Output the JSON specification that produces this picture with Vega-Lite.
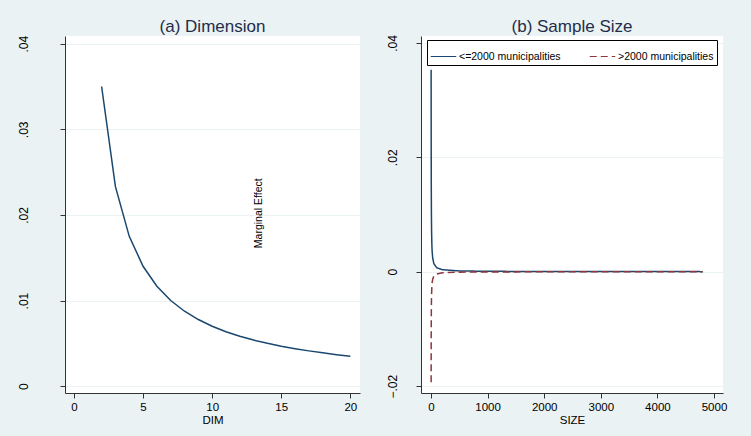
{
  "$schema": "https://vega.github.io/schema/vega-lite/v6.json",
  "background": "#EAF2F3",
  "padding": {"left": 16, "top": 17, "right": 30, "bottom": 18},
  "spacing": 61,
  "bounds": "flush",
  "datasets": {
    "dim": [
      {"DIM": 2, "ME": 0.035}, {"DIM": 3, "ME": 0.0233}, {"DIM": 4, "ME": 0.0175},
      {"DIM": 5, "ME": 0.014}, {"DIM": 6, "ME": 0.01167}, {"DIM": 7, "ME": 0.01},
      {"DIM": 8, "ME": 0.00875}, {"DIM": 9, "ME": 0.00778}, {"DIM": 10, "ME": 0.007},
      {"DIM": 11, "ME": 0.00636}, {"DIM": 12, "ME": 0.00583}, {"DIM": 13, "ME": 0.00538},
      {"DIM": 14, "ME": 0.005}, {"DIM": 15, "ME": 0.00467}, {"DIM": 16, "ME": 0.00438},
      {"DIM": 17, "ME": 0.00412}, {"DIM": 18, "ME": 0.00389}, {"DIM": 19, "ME": 0.00368},
      {"DIM": 20, "ME": 0.0035}
    ],
    "size": [
      {"SIZE": 2, "ME": 0.0353, "group": "<=2000 municipalities"},
      {"SIZE": 3, "ME": 0.0235, "group": "<=2000 municipalities"},
      {"SIZE": 4, "ME": 0.0176, "group": "<=2000 municipalities"},
      {"SIZE": 5, "ME": 0.0141, "group": "<=2000 municipalities"},
      {"SIZE": 7, "ME": 0.0101, "group": "<=2000 municipalities"},
      {"SIZE": 10, "ME": 0.00706, "group": "<=2000 municipalities"},
      {"SIZE": 15, "ME": 0.0047, "group": "<=2000 municipalities"},
      {"SIZE": 20, "ME": 0.00353, "group": "<=2000 municipalities"},
      {"SIZE": 30, "ME": 0.00235, "group": "<=2000 municipalities"},
      {"SIZE": 50, "ME": 0.00141, "group": "<=2000 municipalities"},
      {"SIZE": 100, "ME": 0.0007, "group": "<=2000 municipalities"},
      {"SIZE": 200, "ME": 0.00035, "group": "<=2000 municipalities"},
      {"SIZE": 500, "ME": 0.00014, "group": "<=2000 municipalities"},
      {"SIZE": 1000, "ME": 0.00007, "group": "<=2000 municipalities"},
      {"SIZE": 2000, "ME": 0.000035, "group": "<=2000 municipalities"},
      {"SIZE": 3000, "ME": 0.000024, "group": "<=2000 municipalities"},
      {"SIZE": 4000, "ME": 0.000018, "group": "<=2000 municipalities"},
      {"SIZE": 4800, "ME": 0.000015, "group": "<=2000 municipalities"},
      {"SIZE": 2, "ME": -0.0193, "group": ">2000 municipalities"},
      {"SIZE": 3, "ME": -0.0129, "group": ">2000 municipalities"},
      {"SIZE": 4, "ME": -0.0097, "group": ">2000 municipalities"},
      {"SIZE": 5, "ME": -0.0077, "group": ">2000 municipalities"},
      {"SIZE": 7, "ME": -0.0055, "group": ">2000 municipalities"},
      {"SIZE": 10, "ME": -0.0039, "group": ">2000 municipalities"},
      {"SIZE": 15, "ME": -0.0026, "group": ">2000 municipalities"},
      {"SIZE": 20, "ME": -0.0019, "group": ">2000 municipalities"},
      {"SIZE": 30, "ME": -0.0013, "group": ">2000 municipalities"},
      {"SIZE": 50, "ME": -0.00077, "group": ">2000 municipalities"},
      {"SIZE": 100, "ME": -0.00039, "group": ">2000 municipalities"},
      {"SIZE": 200, "ME": -0.00019, "group": ">2000 municipalities"},
      {"SIZE": 500, "ME": -0.00008, "group": ">2000 municipalities"},
      {"SIZE": 1000, "ME": -0.00004, "group": ">2000 municipalities"},
      {"SIZE": 2000, "ME": -0.00002, "group": ">2000 municipalities"},
      {"SIZE": 3000, "ME": -0.000013, "group": ">2000 municipalities"},
      {"SIZE": 4000, "ME": -0.00001, "group": ">2000 municipalities"},
      {"SIZE": 4800, "ME": -0.000008, "group": ">2000 municipalities"}
    ]
  },
  "hconcat": [
    {
      "width": 295,
      "height": 357,
      "title": "(a) Dimension",
      "layer": [
        {
          "data": {"name": "dim"},
          "mark": {"type": "line", "color": "#1A476F", "strokeWidth": 1.5},
          "encoding": {
            "x": {"field": "DIM", "type": "quantitative", "title": "DIM",
                  "scale": {"domain": [-0.65, 20.7], "nice": false, "zero": false},
                  "axis": {"values": [0, 5, 10, 15, 20], "format": "d"}},
            "y": {"field": "ME", "type": "quantitative",
                  "scale": {"domain": [-0.0008, 0.0409], "nice": false, "zero": false},
                  "axis": {"values": [0, 0.01, 0.02, 0.03, 0.04], "labelPadding": 30,
                           "labelExpr": "datum.value == 0 ? '0' : replace(format(datum.value, '.2~f'), '0.', '.')"}}
          }
        },
        {
          "data": {"values": [{}]},
          "mark": {"type": "text", "angle": 270, "font": "Liberation Sans", "fontSize": 10.5, "color": "#000000", "align": "center", "baseline": "middle"},
          "encoding": {
            "x": {"datum": 13.4, "type": "quantitative"},
            "y": {"datum": 0.0202, "type": "quantitative"},
            "text": {"value": "Marginal Effect"}
          }
        }
      ]
    },
    {
      "width": 302,
      "height": 357,
      "title": "(b) Sample Size",
      "data": {"name": "size"},
      "mark": {"type": "line", "strokeWidth": 1.5},
      "encoding": {
        "x": {"field": "SIZE", "type": "quantitative", "title": "SIZE",
              "scale": {"domain": [-177, 5159], "nice": false, "zero": false},
              "axis": {"values": [0, 1000, 2000, 3000, 4000, 5000], "format": "d"}},
        "y": {"field": "ME", "type": "quantitative",
              "scale": {"domain": [-0.0212, 0.0412], "nice": false, "zero": false},
              "axis": {"values": [-0.02, 0, 0.02, 0.04], "labelPadding": 17,
                       "labelExpr": "datum.value == 0 ? '0' : replace(format(datum.value, '.2~f'), '0.', '.')"}},
        "color": {"field": "group", "type": "nominal",
                  "scale": {"domain": ["<=2000 municipalities", ">2000 municipalities"], "range": ["#1A476F", "#90353B"]},
                  "legend": {"title": null, "orient": "none", "legendX": 362, "legendY": 4, "direction": "horizontal",
                             "fillColor": "white", "strokeColor": "#000000", "padding": 3,
                             "symbolType": "stroke", "symbolSize": 650, "symbolStrokeWidth": 1.2,
                             "labelFont": "Liberation Sans", "labelFontSize": 10.5, "labelColor": "#000000",
                             "columnPadding": 26, "labelOffset": 2}},
        "strokeDash": {"field": "group", "type": "nominal",
                       "scale": {"domain": ["<=2000 municipalities", ">2000 municipalities"], "range": [[1, 0], [7, 4]]},
                       "legend": {"title": null, "orient": "none", "legendX": 362, "legendY": 4, "direction": "horizontal",
                                  "fillColor": "white", "strokeColor": "#000000", "padding": 3,
                                  "symbolType": "stroke", "symbolSize": 650, "symbolStrokeWidth": 1.2,
                                  "labelFont": "Liberation Sans", "labelFontSize": 10.5, "labelColor": "#000000",
                                  "columnPadding": 26, "labelOffset": 2}}
      }
    }
  ],
  "config": {
    "view": {"fill": "white", "stroke": null},
    "axis": {"domainColor": "#333333", "tickColor": "#333333", "labelColor": "#000000", "titleColor": "#000000",
             "labelFont": "Liberation Sans", "titleFont": "Liberation Sans", "labelFontSize": 12, "titleFontSize": 12,
             "titleFontWeight": "normal", "grid": false, "tickSize": 5, "domainWidth": 1, "tickWidth": 1},
    "axisY": {"grid": true, "gridColor": "#EAF2F3", "gridWidth": 1, "labelAngle": 270,
              "labelAlign": "center", "labelBaseline": "bottom", "title": null},
    "axisX": {"labelPadding": 3, "titlePadding": 2, "labelFlush": false, "labelFontSize": 11.5, "titleFontSize": 11.5},
    "title": {"font": "Liberation Sans", "fontSize": 17, "fontWeight": "normal", "color": "#1F2D4A", "offset": -1}
  }
}
